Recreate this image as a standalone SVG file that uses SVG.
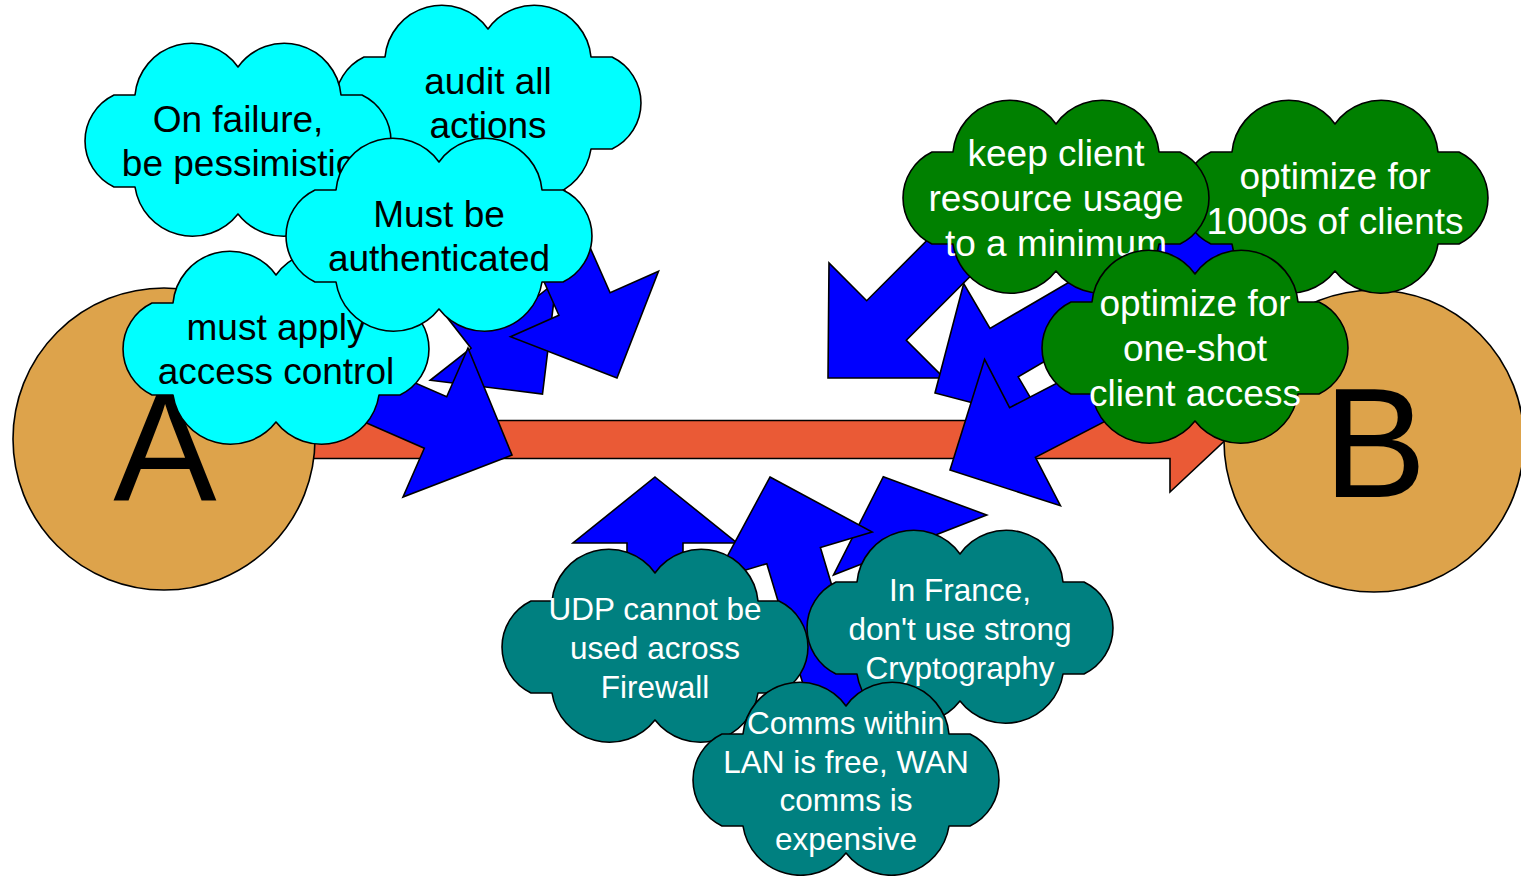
<svg xmlns="http://www.w3.org/2000/svg" xmlns:xlink="http://www.w3.org/1999/xlink" width="1521" height="876" viewBox="0 0 1521 876">
  <style>
    .bg { fill: #ffffff; }
    .ln { stroke: #000000; stroke-width: 1.6; stroke-linejoin: round; }
    .flow { fill: #0000ff; stroke: #000000; stroke-width: 1.6; stroke-linejoin: miter; }
    .main { fill: #ea5a36; stroke: #000000; stroke-width: 1.6; }
    .site { fill: #dda34b; stroke: #000000; stroke-width: 1.6; }
    .cyan { fill: #00ffff; }
    .green { fill: #008000; }
    .teal { fill: #008080; }
    text { font-family: "Liberation Sans", Arial, sans-serif; text-anchor: middle; }
    .big { font-size: 155px; fill: #000000; }
    .dark { font-size: 37px; fill: #000000; }
    .light { font-size: 37px; fill: #ffffff; }
    .small { font-size: 31.5px; fill: #ffffff; }
  </style>
  <defs>
    <!-- cloud outline, 302 x 190 box -->
    <path id="cloud" class="ln" d="M151,22 A57,57 0 0 1 254,50 L275,50 A51,51 0 0 1 275,142 L254,142 A58,58 0 0 1 151,169 A58,58 0 0 1 48,142 L27,142 A51,51 0 0 1 27,50 L48,50 A57,57 0 0 1 151,22 Z"/>
  </defs>

  <rect class="bg" x="0" y="0" width="1521" height="876"/>

  <!-- connectors: the main A to B flow and the constraint arrows -->
  <g id="connectors">
    <polygon id="flow-a-b" class="main" points="290,420.5 1170,420.5 1170,387 1226,439.5 1170,492 1170,458.5 290,458.5"/>
    <polygon id="arrow-authenticated" class="flow" points="542.5,394 556.2,281.7 515.3,313.8 422.9,195.6 378.7,230 471.1,348.2 430.2,380.3"/>
    <polygon id="arrow-audit" class="flow" points="617,378 658.5,271.2 610.1,292.7 533.1,119 481.9,141.6 558.9,315.3 510.5,336.8"/>
    <polygon id="arrow-access" class="flow" points="512,455 468,348 446.7,396.8 290.9,328.8 268.5,380.2 424.3,448.2 403,497"/>
    <polygon id="arrow-resources" class="flow" points="828,378 829,263 866.7,300.7 986.9,180.5 1026.5,220.1 906.3,340.3 944,378"/>
    <polygon id="arrow-scale" class="flow" points="935,393 963.7,283.5 990,328.4 1318.1,136.7 1346.3,185.1 1018.2,376.8 1044.5,421.7"/>
    <polygon id="arrow-oneshot" class="flow" points="950,470 984.6,359.3 1009.6,407.6 1169.5,324.9 1195.3,374.7 1035.4,457.4 1060.4,505.7"/>
    <polygon id="arrow-crypto" class="flow" points="883.3,476.7 986.7,515 936.2,534.8 972.7,627.9 920.5,648.3 884,555.2 833.5,575"/>
    <polygon id="arrow-udp" class="flow" points="655,477 737,543 683,543 683,650 627,650 627,543 573,543"/>
    <polygon id="arrow-wan" class="flow" points="770,477 872.2,532 820.4,547.5 886.6,767.8 833,783.9 766.8,563.7 715,579.2"/>
  </g>

  <!-- endpoints -->
  <g id="node-a">
    <ellipse class="site" cx="164" cy="439" rx="151" ry="151"/>
    <text class="big" x="165" y="500">A</text>
  </g>
  <g id="node-b">
    <ellipse class="site" cx="1374" cy="441" rx="150" ry="151"/>
    <text class="big" x="1375" y="497">B</text>
  </g>

  <!-- security constraints -->
  <g id="cloud-audit">
    <use xlink:href="#cloud" href="#cloud" class="cyan" x="337" y="7"/>
    <text class="dark" x="488" y="94">audit all</text>
    <text class="dark" x="488" y="138">actions</text>
  </g>
  <g id="cloud-pessimistic">
    <use xlink:href="#cloud" href="#cloud" class="cyan" x="87" y="45"/>
    <text class="dark" x="238" y="131.5">On failure,</text>
    <text class="dark" x="238" y="175.5">be pessimistic</text>
  </g>
  <g id="cloud-access">
    <use xlink:href="#cloud" href="#cloud" class="cyan" x="125" y="253"/>
    <text class="dark" x="276" y="339.5">must apply</text>
    <text class="dark" x="276" y="383.5">access control</text>
  </g>
  <g id="cloud-authenticated">
    <use xlink:href="#cloud" href="#cloud" class="cyan" x="288" y="140"/>
    <text class="dark" x="439" y="226.5">Must be</text>
    <text class="dark" x="439" y="270.5">authenticated</text>
  </g>

  <!-- client constraints -->
  <g id="cloud-scale">
    <use xlink:href="#cloud" href="#cloud" class="green" x="1184" y="102"/>
    <text class="light" x="1335" y="188.5">optimize for</text>
    <text class="light" x="1335" y="233.5">1000s of clients</text>
  </g>
  <g id="cloud-resources">
    <use xlink:href="#cloud" href="#cloud" class="green" x="905" y="102"/>
    <text class="light" x="1056" y="166">keep client</text>
    <text class="light" x="1056" y="211">resource usage</text>
    <text class="light" x="1056" y="256">to a minimum</text>
  </g>
  <g id="cloud-oneshot">
    <use xlink:href="#cloud" href="#cloud" class="green" x="1044" y="252"/>
    <text class="light" x="1195" y="316">optimize for</text>
    <text class="light" x="1195" y="361">one-shot</text>
    <text class="light" x="1195" y="406">client access</text>
  </g>

  <!-- network constraints -->
  <g id="cloud-udp">
    <use xlink:href="#cloud" href="#cloud" class="teal" x="504" y="551"/>
    <text class="small" x="655" y="619.5">UDP cannot be</text>
    <text class="small" x="655" y="658.5">used across</text>
    <text class="small" x="655" y="697.5">Firewall</text>
  </g>
  <g id="cloud-crypto">
    <use xlink:href="#cloud" href="#cloud" class="teal" x="809" y="532"/>
    <text class="small" x="960" y="601">In France,</text>
    <text class="small" x="960" y="640">don't use strong</text>
    <text class="small" x="960" y="679">Cryptography</text>
  </g>
  <g id="cloud-wan">
    <use xlink:href="#cloud" href="#cloud" class="teal" x="695" y="684"/>
    <text class="small" x="846" y="734">Comms within</text>
    <text class="small" x="846" y="772.5">LAN is free, WAN</text>
    <text class="small" x="846" y="811">comms is</text>
    <text class="small" x="846" y="849.5">expensive</text>
  </g>
</svg>
